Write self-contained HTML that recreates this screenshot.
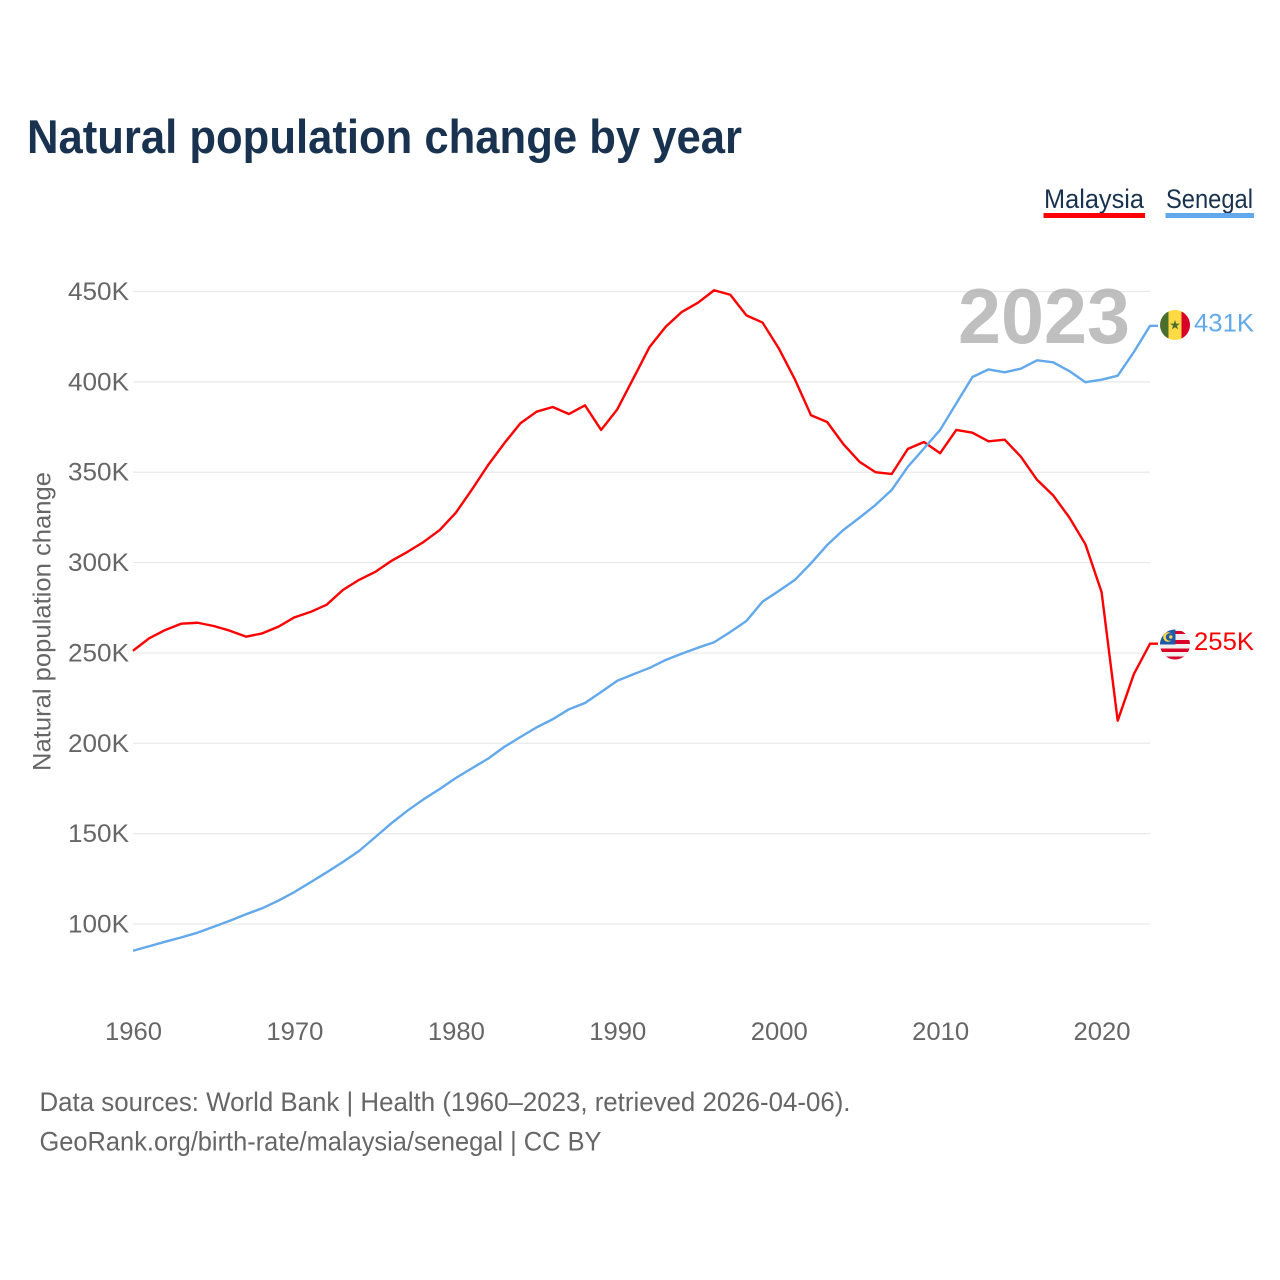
<!DOCTYPE html>
<html lang="en">
<head>
<meta charset="utf-8">
<title>Natural population change by year</title>
<style>
  html, body { margin: 0; padding: 0; background: #fff; }
  svg { display: block; font-family: "Liberation Sans", sans-serif; }
</style>
</head>
<body>
<svg id="chart" xmlns="http://www.w3.org/2000/svg" width="1280" height="1280" viewBox="0 0 1280 1280">
  <defs>
    <clipPath id="flag-clip-sn"><circle cx="1175" cy="325" r="15"/></clipPath>
    <clipPath id="flag-clip-my"><circle cx="1175" cy="644.5" r="15"/></clipPath>
  </defs>
  <rect x="0" y="0" width="1280" height="1280" fill="#ffffff"/>
  <text x="27" y="153" font-size="47" font-weight="700" fill="#18324f" textLength="715" lengthAdjust="spacingAndGlyphs">Natural population change by year</text>

  <g>
    <g>
      <text x="1044" y="208" font-size="27" fill="#18324f" textLength="100" lengthAdjust="spacingAndGlyphs">Malaysia</text>
      <rect x="1043.5" y="213" width="101.5" height="5" fill="#ff0000"/>
    </g>
    <g>
      <text x="1166" y="208" font-size="27" fill="#18324f" textLength="87" lengthAdjust="spacingAndGlyphs">Senegal</text>
      <rect x="1165.5" y="213" width="88.5" height="5" fill="#62a8ec"/>
    </g>
  </g>

  <g id="grid"></g>
  <g id="y-ticks"></g>
  <g id="x-ticks"></g>

  <text x="958" y="343" font-size="78" font-weight="700" fill="#a6a6a6" fill-opacity="0.72" textLength="172" lengthAdjust="spacingAndGlyphs">2023</text>

  <text transform="translate(50.5 771) rotate(-90)" font-size="25" fill="#666666" textLength="299" lengthAdjust="spacingAndGlyphs">Natural population change</text>

  <g id="series"></g>

  <g clip-path="url(#flag-clip-sn)">
    <rect x="1160" y="310" width="8.5" height="30" fill="#496e2d"/>
    <rect x="1168.5" y="310" width="13" height="30" fill="#ffda44"/>
    <rect x="1181.5" y="310" width="8.5" height="30" fill="#d80027"/>
    <polygon points="1175,320 1176.2,323.6 1180,323.6 1176.9,325.8 1178.1,329.4 1175,327.2 1171.9,329.4 1173.1,325.8 1170,323.6 1173.8,323.6" fill="#496e2d"/>
  </g>
  <g clip-path="url(#flag-clip-my)">
    <rect x="1160" y="629" width="30" height="31" fill="#f0f0f0"/>
    <rect x="1160" y="631" width="30" height="3" fill="#d80027"/>
    <rect x="1160" y="640" width="30" height="4" fill="#d80027"/>
    <rect x="1160" y="648.5" width="30" height="3.5" fill="#d80027"/>
    <rect x="1160" y="656.5" width="30" height="3.5" fill="#d80027"/>
    <rect x="1160" y="629" width="15.5" height="15.5" fill="#1f5aa8"/>
    <circle cx="1168" cy="637" r="4.8" fill="#ffda44"/>
    <circle cx="1169.6" cy="637" r="3.8" fill="#1f5aa8"/>
    <circle cx="1170.8" cy="637" r="1.7" fill="#ffda44"/>
  </g>

  <text x="1194" y="331.5" font-size="25" fill="#62a8ec" textLength="60" lengthAdjust="spacingAndGlyphs">431K</text>
  <text x="1194" y="650" font-size="25" fill="#ff0000" textLength="60" lengthAdjust="spacingAndGlyphs">255K</text>

  <text x="39.5" y="1111" font-size="27" fill="#666666" textLength="811" lengthAdjust="spacingAndGlyphs">Data sources: World Bank | Health (1960–2023, retrieved 2026-04-06).</text>
  <a><text x="39.5" y="1150.5" font-size="27" fill="#666666" textLength="562" lengthAdjust="spacingAndGlyphs">GeoRank.org/birth-rate/malaysia/senegal | CC BY</text></a>
</svg>
<script>
const years = [1960,1961,1962,1963,1964,1965,1966,1967,1968,1969,1970,1971,1972,1973,1974,1975,1976,1977,1978,1979,1980,1981,1982,1983,1984,1985,1986,1987,1988,1989,1990,1991,1992,1993,1994,1995,1996,1997,1998,1999,2000,2001,2002,2003,2004,2005,2006,2007,2008,2009,2010,2011,2012,2013,2014,2015,2016,2017,2018,2019,2020,2021,2022,2023];
const malaysia = [251.2,258.1,262.7,266.2,266.7,264.9,262.3,259,260.8,264.5,269.7,272.7,276.7,284.8,290.4,294.8,300.9,305.9,311.4,318,327.6,340.5,354,366,377.1,383.5,386.1,382.2,387,373.4,384.8,402,419.3,430.5,438.7,443.8,450.7,448.2,436.8,432.8,418.6,401.4,381.5,377.8,365.6,355.8,350,349,362.9,366.7,360.5,373.4,371.9,367.1,368,358.6,345.8,337.2,325,310.1,283.7,212.5,238.3,255.1];
const senegal = [85.2,87.7,90.2,92.6,95.2,98.5,101.8,105.4,108.7,112.9,117.7,123.1,128.6,134.3,140.4,148,155.7,162.7,169,174.7,180.8,186.2,191.5,198,203.5,208.8,213.3,218.8,222.3,228.4,234.6,238.2,241.7,246.1,249.6,252.9,255.9,261.6,267.7,278.4,284.3,290.4,299.6,309.7,318,324.8,331.9,340.2,353,363.2,373.4,388.1,402.7,406.9,405.3,407.3,411.9,410.8,406,399.8,401.2,403.4,416.5,431];
const yTickValues = [100,150,200,250,300,350,400,450];
const xTickValues = [1960,1970,1980,1990,2000,2010,2020];

const SVG_NS = 'http://www.w3.org/2000/svg';
function xScale(year) { return 133 + (year - 1960) * (1150 - 133) / 63; }
function yScale(k) { return 924 - (k - 100) * (924 - 291.5) / 350; }
function make(tag, parent) {
  const el = document.createElementNS(SVG_NS, tag);
  parent.appendChild(el);
  return el;
}

const gridGroup = document.getElementById('grid');
const yTickGroup = document.getElementById('y-ticks');
const xTickGroup = document.getElementById('x-ticks');
const seriesGroup = document.getElementById('series');

yTickValues.forEach(function (v) {
  const line = make('line', gridGroup);
  
  
  line.setAttribute('x1', xScale(1960));
  line.setAttribute('x2', xScale(2023));
  line.setAttribute('y1', yScale(v));
  line.setAttribute('y2', yScale(v));
  line.setAttribute('stroke', '#e9e9e9');
  line.setAttribute('stroke-width', '1.2');

  const label = make('text', yTickGroup);
  
  
  label.setAttribute('x', 129);
  label.setAttribute('y', yScale(v) + 8.5);
  label.setAttribute('text-anchor', 'end');
  label.setAttribute('font-size', '25');
  label.setAttribute('fill', '#666666');
  label.setAttribute('textLength', 61);
  label.setAttribute('lengthAdjust', 'spacingAndGlyphs');
  label.textContent = v + 'K';
});

xTickValues.forEach(function (yr) {
  const label = make('text', xTickGroup);
  
  
  label.setAttribute('x', xScale(yr) - 28);
  label.setAttribute('y', 1040);
  label.setAttribute('font-size', '25');
  label.setAttribute('fill', '#666666');
  label.setAttribute('textLength', 57);
  label.setAttribute('lengthAdjust', 'spacingAndGlyphs');
  label.textContent = yr;
});

function drawSeries(values, colour, name) {
  let d = '';
  values.forEach(function (v, i) {
    d += (i ? 'L' : 'M') + xScale(years[i]).toFixed(2) + ' ' + yScale(v).toFixed(2);
  });
  d += 'L' + (xScale(years[years.length - 1]) + 8) + ' ' + yScale(values[values.length - 1]).toFixed(2);
  const path = make('path', seriesGroup);
  
  
  path.setAttribute('d', d);
  path.setAttribute('fill', 'none');
  path.setAttribute('stroke', colour);
  path.setAttribute('stroke-width', '2.4');
  path.setAttribute('stroke-linejoin', 'round');
}
drawSeries(malaysia, '#ff0000', 'line-malaysia');
drawSeries(senegal, '#62a8ec', 'line-senegal');
</script>
</body>
</html>
